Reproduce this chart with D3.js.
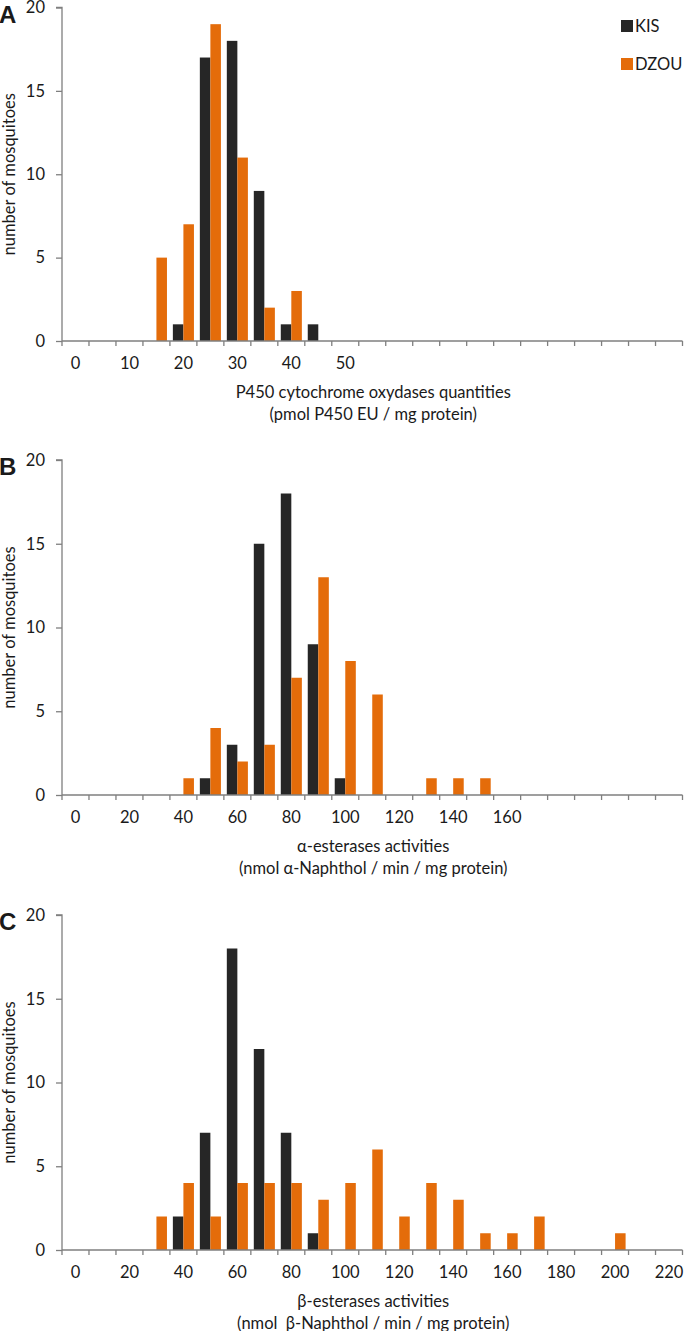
<!DOCTYPE html>
<html>
<head>
<meta charset="utf-8">
<script src="https://cdn.jsdelivr.net/npm/d3@7/dist/d3.min.js"></script>
<style>
  html, body { margin: 0; padding: 0; background: #fff; }
  svg { display: block; }
  text { font-family: Lato, "Open Sans", sans-serif; fill: #1a1a1a; }
</style>
</head>
<body>
<svg id="chart" width="685" height="1331"></svg>
<script>
// ---------- DATA ----------
const seriesNames = ["KIS", "DZOU"];

const categoriesA = [0,5,10,15,20,25,30,35,40,45,50,55,60,65,70,75,80,85,90,95,100,105,110];
const tickLabelsA = ["0","10","20","30","40","50"];
const kisA  = [0,0,0,0,1,17,18,9,1,1,0,0,0,0,0,0,0,0,0,0,0,0,0];
const dzouA = [0,0,0,5,7,19,11,2,3,0,0,0,0,0,0,0,0,0,0,0,0,0,0];

const categoriesB = [0,10,20,30,40,50,60,70,80,90,100,110,120,130,140,150,160,170,180,190,200,210,220];
const tickLabelsB = ["0","20","40","60","80","100","120","140","160"];
const kisB  = [0,0,0,0,0,1,3,15,18,9,1,0,0,0,0,0,0,0,0,0,0,0,0];
const dzouB = [0,0,0,0,1,4,2,3,7,13,8,6,0,1,1,1,0,0,0,0,0,0,0];

const categoriesC = [0,10,20,30,40,50,60,70,80,90,100,110,120,130,140,150,160,170,180,190,200,210,220];
const tickLabelsC = ["0","20","40","60","80","100","120","140","160","180","200","220"];
const kisC  = [0,0,0,0,2,7,18,12,7,1,0,0,0,0,0,0,0,0,0,0,0,0,0];
const dzouC = [0,0,0,2,4,2,4,4,4,3,4,6,2,4,3,1,1,2,0,0,1,0,0];

const yTicks = [0,5,10,15,20];
const yTitle = "number of mosquitoes";

const titlesA = ["P450 cytochrome oxydases quantities", "(pmol P450 EU / mg protein)"];
const titlesB = ["\u03b1-esterases activities", "(nmol \u03b1-Naphthol / min / mg protein)"];
const titlesC = ["\u03b2-esterases activities", "(nmol  \u03b2-Naphthol / min / mg protein)"];

// ---------- STYLE / LAYOUT ----------
const colors = { KIS: "#262626", DZOU: "#e46c0a" };
const axisColor = "#7f7f7f";
const xLeft = 62, xRight = 682.5;

const panels = [
  { letter: "A", cats: categoriesA, labels: tickLabelsA, kis: kisA, dzou: dzouA, titles: titlesA, yTop: 7.5,  yBottom: 341, legend: true },
  { letter: "B", cats: categoriesB, labels: tickLabelsB, kis: kisB, dzou: dzouB, titles: titlesB, yTop: 460,  yBottom: 795, legend: false },
  { letter: "C", cats: categoriesC, labels: tickLabelsC, kis: kisC, dzou: dzouC, titles: titlesC, yTop: 915,  yBottom: 1250, legend: false }
];

const svg = d3.select("#chart");

panels.forEach(p => {
  const g = svg.append("g");

  const x = d3.scaleBand().domain(p.cats).range([xLeft, xRight]).paddingInner(0).paddingOuter(0);
  const xs = d3.scaleBand().domain(seriesNames).range([0, x.bandwidth()]).paddingInner(0).paddingOuter(0.28);
  const y = d3.scaleLinear().domain([0, 20]).range([p.yBottom, p.yTop]);

  // bars
  const rows = p.cats.map((c, i) => ({ cat: c, KIS: p.kis[i], DZOU: p.dzou[i] }));
  const groups = g.selectAll("g.cat").data(rows).join("g")
    .attr("transform", d => `translate(${x(d.cat)},0)`);
  groups.selectAll("rect")
    .data(d => seriesNames.map(s => ({ s, v: d[s] })).filter(e => e.v > 0))
    .join("rect")
    .attr("x", e => xs(e.s))
    .attr("width", xs.bandwidth())
    .attr("y", e => y(e.v))
    .attr("height", e => y(0) - y(e.v))
    .attr("fill", e => colors[e.s]);

  // y axis
  const yAxis = d3.axisLeft(y).tickValues(yTicks).tickSize(6).tickPadding(11).tickFormat(d3.format("d"));
  const ya = g.append("g").attr("transform", `translate(${xLeft},0)`).call(yAxis);
  ya.select(".domain").attr("stroke", axisColor).attr("stroke-width", 1.3).attr("d", `M-6,${y(20)}H0V${y(0)}`);
  ya.selectAll(".tick line").attr("stroke", axisColor).attr("stroke-width", 1.3);
  ya.selectAll(".tick text").attr("font-size", 16.5).attr("font-family", "Lato, sans-serif").attr("fill", "#1a1a1a");

  // x axis: ticks at band boundaries, labels at band centres
  const boundaries = p.cats.map(c => x(c)).concat([xRight]);
  const xa = g.append("g");
  xa.append("line").attr("x1", xLeft).attr("x2", xRight).attr("y1", y(0)).attr("y2", y(0))
    .attr("stroke", axisColor).attr("stroke-width", 1.5);
  xa.selectAll("line.tk").data(boundaries).join("line").attr("class", "tk")
    .attr("x1", d => d).attr("x2", d => d).attr("y1", y(0)).attr("y2", y(0) + 5)
    .attr("stroke", axisColor).attr("stroke-width", 1.3);
  xa.selectAll("text").data(p.cats.filter(c => p.labels.includes(String(c)))).join("text")
    .attr("x", d => x(d) + x.bandwidth() / 2)
    .attr("y", y(0) + 22)
    .attr("dy", "0.35em")
    .attr("text-anchor", "middle")
    .attr("font-size", 16.5)
    .text(d => String(d));

  // x title
  const cx = (xLeft + xRight) / 2 + 1;
  p.titles.forEach((t, i) => {
    g.append("text").attr("x", cx).attr("y", y(0) + 57 + i * 22)
      .attr("text-anchor", "middle").attr("font-size", 16.5).style("white-space", "pre").text(t);
  });

  // y title
  g.append("text")
    .attr("transform", `translate(15,${(p.yTop + p.yBottom) / 2}) rotate(-90)`)
    .attr("text-anchor", "middle").attr("font-size", 16.5).text(yTitle);

  // panel letter
  g.append("text").attr("x", -1).attr("y", p.yTop + 15)
    .attr("font-weight", "bold").attr("font-size", 24)
    .style("font-family", "'Liberation Sans', Arial, sans-serif")
    .text(p.letter);

  // legend
  if (p.legend) {
    const lg = g.append("g");
    seriesNames.forEach((s, i) => {
      const cy = 26 + i * 38;
      lg.append("rect").attr("x", 621).attr("y", cy - 6).attr("width", 12).attr("height", 12).attr("fill", colors[s]);
      lg.append("text").attr("x", 635).attr("y", cy).attr("dy", "0.36em").attr("font-size", 16.5).text(s);
    });
  }
});
</script>
</body>
</html>
